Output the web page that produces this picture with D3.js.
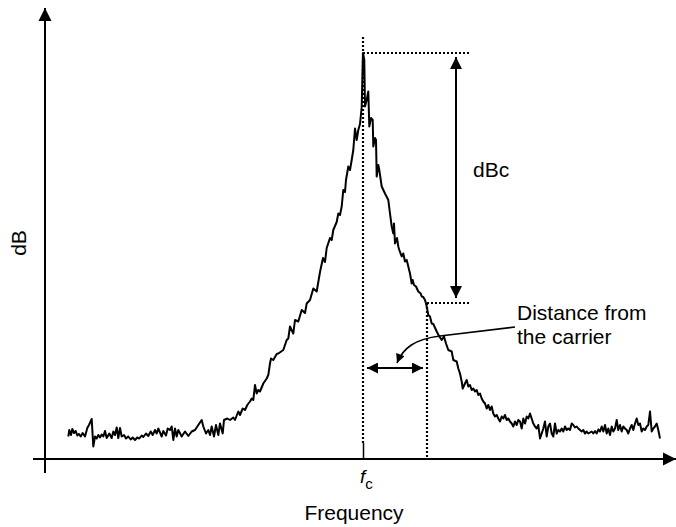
<!DOCTYPE html>
<html>
<head>
<meta charset="utf-8">
<script src="https://cdn.jsdelivr.net/npm/d3@7"></script>
<style>
  body { margin: 0; background: #fff; }
  svg { display: block; }
  text { font-family: "Liberation Sans", Arial, Helvetica, sans-serif; fill: #000; }
</style>
</head>
<body>
<svg id="chart" width="676" height="527"></svg>
<script>
// Measured spectrum around the carrier: offset from fc (kHz) and level (dBc)
const offsetKHz = [
  -29.47,-29.37,-29.2,-29.07,-28.9,-28.73,-28.57,-28.4,-28.23,-28.03,-27.8,-27.57,-27.4,-27.13,-26.97,-26.8,-26.63,-26.47,-26.3,-26.13,
  -25.97,-25.8,-25.63,-25.37,-25.13,-24.97,-24.8,-24.63,-24.47,-24.3,-24.13,-23.9,-23.7,-23.47,-23.23,-23.03,-22.8,-22.57,-22.37,-22.13,
  -21.97,-21.7,-21.47,-21.23,-21.03,-20.8,-20.63,-20.47,-20.3,-20.13,-19.97,-19.7,-19.53,-19.3,-19.13,-18.97,-18.8,-18.63,-18.47,-18.13,
  -17.8,-17.47,-17.13,-16.8,-16.47,-16.13,-15.97,-15.7,-15.47,-15.3,-15.13,-14.9,-14.7,-14.47,-14.3,-14.03,-13.9,-13.57,-13.3,-12.97,
  -12.8,-12.47,-12.3,-12.03,-11.8,-11.57,-11.3,-11.13,-10.97,-10.8,-10.63,-10.47,-10.3,-9.97,-9.63,-9.47,-9.3,-9.2,-8.97,-8.63,
  -8.47,-7.97,-7.63,-7.47,-7.3,-6.97,-6.8,-6.47,-6.13,-5.8,-5.63,-5.3,-4.97,-4.63,-4.3,-4.0,-3.8,-3.63,-3.3,-3.13,
  -2.97,-2.63,-2.47,-2.3,-2.13,-1.97,-1.8,-1.7,-1.47,-1.3,-1.13,-0.97,-0.8,-0.63,-0.47,-0.3,-0.13,-0.03,0,
  0.13,0.2,0.37,0.53,0.63,0.8,0.97,1.03,1.2,1.3,1.37,1.53,1.63,1.87,2.2,2.53,2.7,2.87,3.03,3.1,
  3.2,3.4,3.53,3.63,3.87,4.03,4.2,4.37,4.53,4.7,4.87,4.97,5.1,5.3,5.53,5.77,5.87,6.03,6.2,6.3,
  6.37,6.53,6.7,6.87,7.03,7.37,7.63,7.87,8.1,8.3,8.53,8.87,9.03,9.37,9.53,9.7,9.87,9.97,10.2,10.37,
  10.53,10.7,10.87,11.03,11.2,11.37,11.53,11.7,11.87,12.03,12.2,12.37,12.53,12.7,12.87,13.03,13.2,13.37,13.53,13.7,
  13.87,14.03,14.2,14.37,14.53,14.7,14.87,15.03,15.2,15.37,15.53,15.7,15.87,16.03,16.2,16.37,16.53,16.7,17.03,17.2,
  17.37,17.53,17.7,17.87,18.03,18.2,18.37,18.53,18.7,18.87,19.03,19.2,19.37,19.53,19.7,19.87,20.03,20.2,20.37,20.53,
  20.7,20.87,21.03,21.2,21.37,21.53,21.7,21.87,22.03,22.2,22.37,22.53,22.7,22.87,23.03,23.2,23.37,23.53,23.7,23.87,
  24.03,24.2,24.37,24.53,24.7,24.87,25.03,25.2,25.37,25.53,25.7,25.87,26.03,26.2,26.37,26.53,26.7,26.87,27.03,27.2,
  27.37,27.53,27.7,27.87,28.03,28.2,28.37,28.53,28.7,28.87,29.03,29.2,29.37,29.53,29.7
];
const levelDbc = [
  -76.7,-75.4,-76.4,-75.2,-76.0,-75.6,-76.5,-76.2,-76.7,-76.0,-76.7,-75.0,-74.4,-73.2,-78.7,-76.7,-77.1,-76.4,-76.9,-76.3,
  -76.7,-75.6,-77.0,-76.1,-77.0,-75.7,-76.4,-74.9,-77.0,-75.0,-76.7,-76.4,-77.1,-76.7,-77.3,-76.9,-77.4,-76.9,-77.1,-76.5,
  -76.8,-76.1,-76.6,-75.7,-76.4,-75.4,-76.1,-75.1,-75.9,-76.7,-75.6,-76.5,-75.1,-75.4,-74.7,-77.4,-75.1,-76.7,-75.4,-76.7,
  -75.7,-76.6,-75.7,-75.4,-74.4,-73.4,-74.7,-76.1,-75.4,-76.4,-74.7,-76.7,-74.4,-76.4,-74.1,-76.1,-73.4,-73.1,-73.4,-72.9,
  -73.4,-71.7,-72.4,-71.1,-71.4,-70.4,-69.7,-69.1,-69.4,-66.4,-68.1,-67.4,-67.7,-66.1,-65.1,-64.4,-62.1,-61.1,-61.4,-60.2,
  -60.1,-59.4,-57.4,-57.1,-54.7,-56.1,-53.4,-53.7,-51.4,-52.0,-50.1,-49.4,-47.1,-47.7,-43.8,-41.0,-41.8,-39.0,-37.0,-37.4,
  -35.4,-33.8,-32.1,-32.4,-30.7,-27.4,-27.8,-25.4,-22.7,-23.4,-21.4,-19.4,-15.1,-17.4,-15.4,-14.2,-10.8,-2.0,0,
  -1.4,-10.7,-9.4,-7.7,-14.7,-13.0,-13.4,-18.7,-17.0,-17.4,-24.7,-22.4,-23.4,-26.7,-28.1,-29.4,-32.1,-34.7,-36.1,-34.1,
  -38.1,-37.0,-38.7,-39.4,-40.7,-40.1,-41.7,-41.4,-42.7,-44.1,-46.1,-45.4,-46.4,-46.7,-47.7,-48.1,-48.7,-48.8,-49.4,-50.1,
  -50.7,-52.4,-52.7,-54.1,-54.2,-55.7,-56.7,-57.4,-56.7,-58.1,-59.4,-59.7,-61.4,-61.7,-63.1,-64.1,-65.7,-67.1,-66.1,-65.4,
  -66.7,-66.4,-67.4,-67.1,-67.7,-67.4,-68.4,-68.1,-69.1,-69.7,-70.1,-71.1,-70.4,-71.4,-70.7,-72.1,-72.7,-72.4,-73.1,-73.7,
  -72.7,-73.1,-72.4,-73.4,-73.1,-73.7,-74.1,-74.7,-73.7,-74.4,-73.4,-73.7,-75.1,-73.1,-74.1,-72.7,-73.1,-72.1,-74.1,-74.7,
  -75.1,-74.4,-77.1,-76.1,-75.1,-73.7,-76.7,-74.7,-74.1,-76.1,-76.7,-74.1,-76.1,-75.4,-75.7,-75.1,-75.7,-74.7,-75.4,-75.1,
  -75.4,-74.1,-74.4,-74.9,-74.7,-75.1,-75.4,-75.7,-75.4,-76.1,-75.7,-76.1,-75.9,-75.7,-76.1,-75.6,-76.1,-75.3,-75.7,-74.7,
  -75.7,-74.4,-76.1,-75.1,-76.4,-74.7,-75.7,-75.1,-73.4,-75.4,-74.4,-75.7,-74.7,-75.1,-75.4,-76.1,-75.1,-74.4,-75.4,-74.1,
  -73.1,-74.4,-74.1,-75.7,-75.1,-75.4,-74.7,-74.4,-71.7,-75.7,-75.1,-74.7,-74.1,-75.4,-77.1
];

// Annotation values (same units as the spectrum)
const carrierOffset = 0;          // fc
const markerOffset = 6.4;         // offset where the sideband level is read
const markerLevel = -50;          // sideband level relative to the carrier
const guideEnd = 10.7;            // right end of the dotted level guides
const dbcArrowOffset = 9.3;       // where the dBc span arrow sits
const spanArrowLevel = -63;       // height of the offset span arrow
const fcGuideTop = 3.2;           // top of the dotted fc guide

const labels = {
  y: "dB",
  x: "Frequency",
  dbc: "dBc",
  note: ["Distance from", "the carrier"]
};

const svg = d3.select("#chart");

const x = d3.scaleLinear().domain([-31.8, 31.3]).range([45, 676]);
const y = d3.scaleLinear().domain([-81.2, 9]).range([459, 8]);

// Arrowhead markers
const defs = svg.append("defs");
function marker(id, len, wid) {
  defs.append("marker")
    .attr("id", id)
    .attr("viewBox", "0 0 10 10")
    .attr("refX", 10).attr("refY", 5)
    .attr("markerUnits", "userSpaceOnUse")
    .attr("markerWidth", len).attr("markerHeight", wid)
    .attr("orient", "auto-start-reverse")
    .append("path")
    .attr("d", "M0,0 L10,5 L0,10 Z")
    .attr("fill", "#000");
}
marker("axisHead", 13, 14);
marker("bigHead", 13, 12);
marker("spanHead", 12, 11);
marker("leadHead", 10, 9);

// Axes
const x0 = x.range()[0];
const yBase = y(-81.2);
svg.append("line")
  .attr("x1", x0).attr("x2", x0)
  .attr("y1", yBase + 14).attr("y2", y(9))
  .attr("stroke", "#000").attr("stroke-width", 2)
  .attr("marker-end", "url(#axisHead)");
svg.append("line")
  .attr("x1", x0 - 12).attr("x2", x.range()[1])
  .attr("y1", yBase).attr("y2", yBase)
  .attr("stroke", "#000").attr("stroke-width", 2)
  .attr("marker-end", "url(#axisHead)");

// Carrier tick on the frequency axis
const xAxis = d3.axisBottom(x)
  .tickValues([carrierOffset])
  .tickSize(-16)
  .tickSizeOuter(0)
  .tickFormat("");
const gx = svg.append("g").attr("transform", `translate(0,${yBase})`).call(xAxis);
gx.select(".domain").remove();
gx.selectAll(".tick line").attr("stroke", "#000").attr("stroke-width", 1.5);

// Dotted guides
const dotted = { stroke: "#000", "stroke-width": 2.2, "stroke-dasharray": "2,2" };
function guide(x1, y1, x2, y2) {
  const l = svg.append("line").attr("x1", x1).attr("y1", y1).attr("x2", x2).attr("y2", y2);
  Object.entries(dotted).forEach(([k, v]) => l.attr(k, v));
}
guide(x(carrierOffset), y(fcGuideTop), x(carrierOffset), yBase - 16);
guide(x(carrierOffset), y(0), x(guideEnd), y(0));
guide(x(markerOffset), y(markerLevel), x(guideEnd), y(markerLevel));
guide(x(markerOffset), y(markerLevel), x(markerOffset), yBase);

// Spectrum trace
const pts = offsetKHz.map((f, i) => [f, levelDbc[i]]);
svg.append("path")
  .datum(pts)
  .attr("fill", "none")
  .attr("stroke", "#000")
  .attr("stroke-width", 2)
  .attr("stroke-linejoin", "round")
  .attr("d", d3.line().x(d => x(d[0])).y(d => y(d[1])));

// dBc span arrow
svg.append("line")
  .attr("x1", x(dbcArrowOffset)).attr("x2", x(dbcArrowOffset))
  .attr("y1", y(-0.8)).attr("y2", y(markerLevel + 1))
  .attr("stroke", "#000").attr("stroke-width", 2)
  .attr("marker-start", "url(#bigHead)")
  .attr("marker-end", "url(#bigHead)");

// Offset span arrow
svg.append("line")
  .attr("x1", x(0.4)).attr("x2", x(6.0))
  .attr("y1", y(spanArrowLevel)).attr("y2", y(spanArrowLevel))
  .attr("stroke", "#000").attr("stroke-width", 2)
  .attr("marker-start", "url(#spanHead)")
  .attr("marker-end", "url(#spanHead)");

// Curved leader from the note to the span arrow
const lp = d3.path();
lp.moveTo(x(15.2), y(-54.8));
lp.lineTo(x(7.7), y(-56.6));
lp.bezierCurveTo(x(5.2), y(-57.2), x(4.0), y(-59.0), x(3.4), y(-62.0));
svg.append("path")
  .attr("d", lp.toString())
  .attr("fill", "none")
  .attr("stroke", "#000").attr("stroke-width", 1.6)
  .attr("marker-end", "url(#leadHead)");

// Labels
svg.append("text")
  .attr("transform", `translate(25.5,243) rotate(-90)`)
  .attr("text-anchor", "middle")
  .attr("font-size", 21)
  .text(labels.y);

svg.append("text")
  .attr("x", 354).attr("y", 520)
  .attr("text-anchor", "middle")
  .attr("font-size", 21)
  .text(labels.x);

const fc = svg.append("text").attr("x", x(carrierOffset) - 3).attr("y", 483).attr("font-size", 19);
fc.append("tspan").attr("font-style", "italic").text("f");
fc.append("tspan").attr("font-size", 15).attr("dy", 6).text("c");

svg.append("text")
  .attr("x", 473).attr("y", 177)
  .attr("font-size", 21)
  .text(labels.dbc);

svg.append("text")
  .attr("x", 517).attr("y", 320)
  .attr("font-size", 21)
  .text(labels.note[0]);
svg.append("text")
  .attr("x", 517).attr("y", 344)
  .attr("font-size", 21)
  .text(labels.note[1]);
</script>
</body>
</html>
